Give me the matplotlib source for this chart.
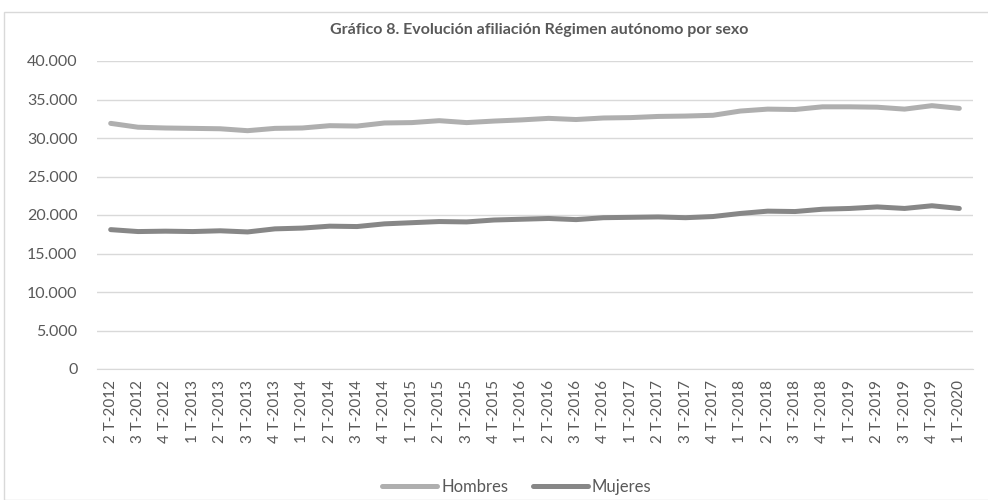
import matplotlib.pyplot as plt
from matplotlib.ticker import FuncFormatter
from matplotlib.patches import Rectangle

plt.rcParams['font.family'] = ['Lato', 'DejaVu Sans']

quarters = ['2 T-2012', '3 T-2012', '4 T-2012']
for yr in range(2013, 2020):
    quarters += ['%d T-%d' % (q, yr) for q in range(1, 5)]
quarters += ['1 T-2020']

hombres = [31900, 31400, 31300, 31250, 31200, 30950, 31250, 31300, 31600, 31550,
           31950, 32000, 32250, 32000, 32200, 32350, 32550, 32400, 32600, 32650,
           32800, 32850, 32950, 33500, 33750, 33700, 34050, 34050, 34000, 33750,
           34200, 33850]
mujeres = [18100, 17850, 17900, 17850, 17950, 17800, 18200, 18300, 18550, 18500,
           18850, 19000, 19150, 19100, 19350, 19450, 19550, 19400, 19650, 19700,
           19750, 19650, 19800, 20200, 20500, 20450, 20750, 20850, 21050, 20850,
           21200, 20850]

txt = '#595959'
fig = plt.figure(figsize=(9.88, 5.0), dpi=100)
fig.patches.append(Rectangle((4 / 988, 0), 1, 1 - 12 / 500, transform=fig.transFigure,
                             fill=False, edgecolor='#d9d9d9', lw=1))
ax = fig.add_axes([97 / 988, 1 - 369 / 500, 876 / 988, 308 / 500])

x = list(range(len(quarters)))
ax.plot(x, hombres, color='#afafaf', lw=3.6, solid_capstyle='round', label='Hombres')
ax.plot(x, mujeres, color='#878787', lw=3.6, solid_capstyle='round', label='Mujeres')

ax.set_xlim(-0.5, len(quarters) - 0.5)
ax.set_ylim(0, 40000)
ax.set_yticks(range(0, 40001, 5000))
ax.yaxis.set_major_formatter(FuncFormatter(lambda v, p: '{:,.0f}'.format(v).replace(',', '.')))
ax.set_xticks(x)
ax.set_xticklabels(quarters, rotation=90)
ax.grid(axis='y', color='#d9d9d9', lw=1)
ax.set_axisbelow(True)
for s in ['top', 'right', 'left']:
    ax.spines[s].set_visible(False)
ax.spines['bottom'].set_color('#d9d9d9')
ax.tick_params(axis='both', length=0, colors=txt)
ax.tick_params(axis='y', pad=14, labelsize=11.5)
ax.tick_params(axis='x', pad=8, labelsize=11)

fig.text(539 / 988, 1 - 30 / 500, 'Gráfico 8. Evolución afiliación Régimen autónomo por sexo',
         ha='center', va='center', fontsize=11.5, fontweight='bold', color=txt)
fig.legend(loc='center', bbox_to_anchor=(517 / 988, 1 - 487 / 500), ncol=2, frameon=False,
           fontsize=12, labelcolor=txt, handlelength=3.3, handletextpad=0.25,
           columnspacing=1.45)

fig.savefig('out.png', dpi=100)
